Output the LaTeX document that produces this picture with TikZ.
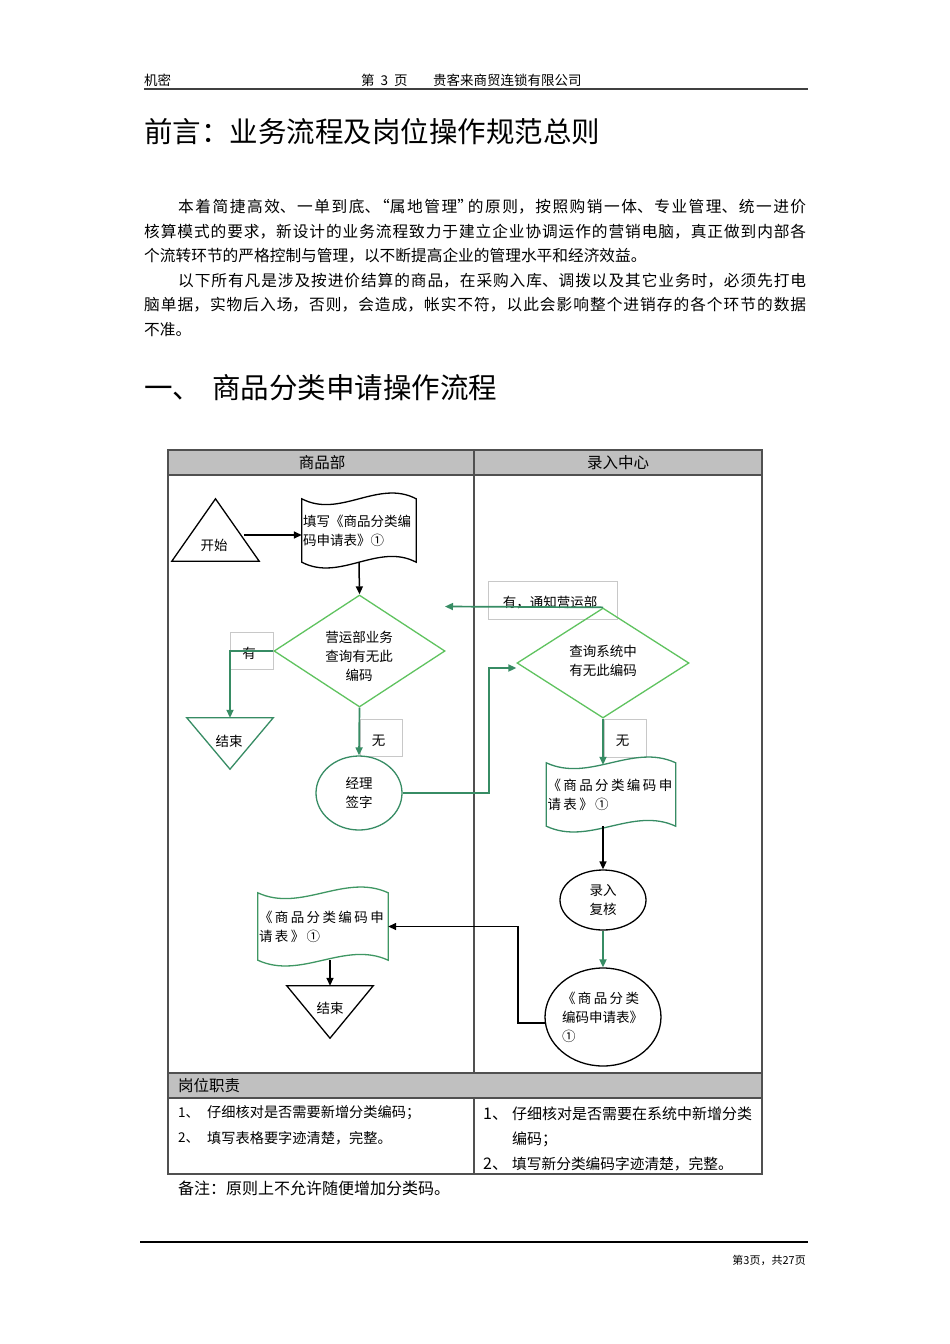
\documentclass[tikz,border=0pt]{standalone}
\usepackage{fontspec}
\setmainfont{Noto Sans CJK SC}
\usetikzlibrary{arrows.meta,shapes.geometric,calc}
\XeTeXlinebreaklocale "zh"
\XeTeXlinebreakskip=0pt plus 1.2pt
\definecolor{lgreen}{RGB}{95,195,95}
\definecolor{dgreen}{RGB}{55,140,100}
\definecolor{hdrgray}{RGB}{192,192,192}
\definecolor{lblgray}{RGB}{200,200,200}
\definecolor{tblline}{RGB}{80,80,80}
\newcommand\lsp{\hspace{2.4pt}}
\newcommand\wavedoc[2]{%
  \draw[#2] (#1.north west)
    .. controls ($(#1.north west)!0.333!(#1.north east)+(0,20)$) and ($(#1.north west)!0.667!(#1.north east)+(0,-20)$) .. (#1.north east)
    -- (#1.south east)
    .. controls ($(#1.south west)!0.667!(#1.south east)+(0,-20)$) and ($(#1.south west)!0.333!(#1.south east)+(0,20)$) .. (#1.south west)
    -- cycle;}
\tikzset{
  tx/.style={inner sep=0pt, anchor=west, font=\fontsize{#1}{#1}\selectfont},
  ftxt/.style={inner sep=0pt, font=\fontsize{13.5}{19}\selectfont, align=center},
  shp/.style={draw=none, inner sep=0pt, font=\fontsize{13.5}{19}\selectfont},
  lbl/.style={draw=lblgray, line width=0.8pt, inner sep=0pt},
  garr/.style={draw=dgreen, line width=1.7pt, -{Triangle[length=8pt,width=7pt]}},
  barr/.style={draw=black, line width=1.5pt, -{Triangle[length=8pt,width=7pt]}},
  tbl/.style={draw=tblline, line width=1.3pt},
}
\begin{document}
\begin{tikzpicture}[x=1pt,y=-1pt]
\useasboundingbox (0,0) rectangle (950,1344);
\fill[white] (0,0) rectangle (950,1344);
% page header
\node[tx=13.5] (conf) at (144,80) {机密};
\node[tx=13.5] (pg) at (361,80) {第\hspace{6pt}3\hspace{6pt}页};
\node[tx=13.5] (co) at (433,80) {贵客来商贸连锁有限公司};
\draw[line width=2pt, black!75] (144,89) -- (808,89);
\node[tx=28.5] (title) at (144,132) {前言：业务流程及岗位操作规范总则};
\node[anchor=north west, inner sep=0pt, text width=662pt, align=justify, font=\fontsize{15.7}{24.6}\selectfont] (intro) at (144,199) {\hspace*{34pt}本着简捷高效、一单到底、\kern-6pt“属地管理”\kern-5pt的原则，按照购销一体、专业管理、统一进价\linebreak 核算模式的要求，新设计的业务流程致力于建立企业协调运作的营销电脑，真正做到内部各\linebreak 个流转环节的严格控制与管理，以不断提高企业的管理水平和经济效益。\par\hspace*{34pt}以下所有凡是涉及按进价结算的商品，在采购入库、调拨以及其它业务时，必须先打电\linebreak 脑单据，实物后入场，否则，会造成，帐实不符，以此会影响整个进销存的各个环节的数据\linebreak 不准。};
\node[tx=28.5] (sec) at (144,388) {一、\hspace{11pt}商品分类申请操作流程};
% table
\fill[hdrgray] (168,450) rectangle (762,475);
\fill[hdrgray] (168,1073) rectangle (762,1098);
\draw[tbl] (168,450) rectangle (762,1174);
\draw[tbl] (168,475) -- (762,475) (168,1073) -- (762,1073) (168,1098) -- (762,1098)
  (474,450) -- (474,1073) (474,1098) -- (474,1174);
\node[inner sep=0pt, font=\fontsize{15.5}{15.5}\selectfont] (lane1) at (322,463) {商品部};
\node[inner sep=0pt, font=\fontsize{15.5}{15.5}\selectfont] (lane2) at (618,463) {录入中心};
\node[tx=15.5] (duty) at (178,1086) {岗位职责};
\node[tx=13.5] (l1n) at (178,1113) {1、};
\node[tx=14.2] (l1t) at (207,1113) {仔细核对是否需要新增分类编码；};
\node[tx=13.5] (l2n) at (178,1138) {2、};
\node[tx=14.2] (l2t) at (207,1138) {填写表格要字迹清楚，完整。};
\node[tx=16] (r1n) at (483,1114) {1、};
\node[tx=15] (r1t) at (512,1114) {仔细核对是否需要在系统中新增分类};
\node[tx=15] (r1u) at (512,1139) {编码；};
\node[tx=16] (r2n) at (483,1164) {2、};
\node[tx=14.7] (r2t) at (512,1164) {填写新分类编码字迹清楚，完整。};
\node[tx=16] (note) at (178,1188) {备注：原则上不允许随便增加分类码。};
% footer
\draw[line width=2.5pt, black] (140,1242) -- (808,1242);
\node[inner sep=0pt, anchor=east, font=\fontsize{11}{11}\selectfont] (foot) at (806,1260) {第3页，共27页};
% label boxes
\node[lbl, minimum width=43pt, minimum height=37pt] (lblyes1) at (251.5,650.5) {};
\node[ftxt] (lblyes1txt) at (249,653) {有};
\node[lbl, minimum width=42pt, minimum height=37pt] (lblno1) at (381,737.5) {};
\node[ftxt] (lblno1txt) at (378.5,741) {无};
\node[lbl, minimum width=129pt, minimum height=38pt] (lblyes2) at (552.5,600) {};
\node[ftxt] (lblyes2txt) at (550,603) {有，通知营运部};
\node[lbl, minimum width=42pt, minimum height=38pt] (lblno2) at (625,738) {};
\node[ftxt] (lblno2txt) at (622.5,741) {无};
% shapes
\node[shp, minimum width=87pt, minimum height=62pt] (start) at (215.5,530) {};
\draw[black, line width=1.3pt] (start.north) -- (start.south east) -- (start.south west) -- cycle;
\node[ftxt] (starttxt) at (214,545) {开始};
\node[shp, minimum width=114pt, minimum height=63pt, text width=112pt, align=left] (doc1) at (359,530.5) {填写《商品分类编\\码申请表》①};
\wavedoc{doc1}{black, line width=1.3pt}
\node[shp, shape=diamond, draw=lgreen, line width=1.3pt, minimum width=171pt, minimum height=112pt] (dia1) at (359.5,651) {};
\node[ftxt] (dia1txt) at (359,656) {营运部业务\\查询有无此\\编码};
\node[shp, minimum width=86pt, minimum height=51pt] (end1) at (230,743.5) {};
\draw[dgreen, line width=1.3pt] (end1.north west) -- (end1.north east) -- (end1.south) -- cycle;
\node[ftxt] (end1txt) at (229,741) {结束};
\node[shp, shape=ellipse, draw=dgreen, line width=1.3pt, minimum width=86pt, minimum height=74pt, align=center] (mgr) at (359,793) {经理\\签字};
\node[shp, shape=diamond, draw=lgreen, line width=1.3pt, minimum width=172pt, minimum height=110pt] (dia2) at (603,663) {};
\node[ftxt] (dia2txt) at (603,660.5) {查询系统中\\有无此编码};
\node[shp, minimum width=129pt, minimum height=63pt, text width=127pt, align=left] (doc2) at (611,794.5) {《\lsp{}商\lsp{}品\lsp{}分\lsp{}类\lsp{}编\lsp{}码\lsp{}申\\请\lsp{}表\lsp{}》\lsp{}①};
\wavedoc{doc2}{dgreen, line width=1.3pt}
\node[shp, shape=ellipse, draw=black, line width=1.3pt, minimum width=86pt, minimum height=60pt, align=center] (rec) at (603,900) {录入\\复核};
\node[shp, shape=ellipse, draw=black, line width=1.3pt, minimum width=114pt, minimum height=98pt, text width=82pt, align=left] (form) at (603,1017) {《\lsp{}商\lsp{}品\lsp{}分\lsp{}类\\编码申请表》\\①};
\node[shp, minimum width=130pt, minimum height=67pt, text width=128pt, align=left] (doc3) at (323,926.5) {《\lsp{}商\lsp{}品\lsp{}分\lsp{}类\lsp{}编\lsp{}码\lsp{}申\\请\lsp{}表\lsp{}》\lsp{}①};
\wavedoc{doc3}{dgreen!80!lgreen, line width=1.3pt}
\node[shp, minimum width=86pt, minimum height=52pt] (end2) at (330,1012) {};
\draw[black, line width=1.3pt] (end2.north west) -- (end2.north east) -- (end2.south) -- cycle;
\node[ftxt] (end2txt) at (330,1008) {结束};
% coordinates
\coordinate (notify) at (445,606.5);
\coordinate (turn1) at (489,793);
\coordinate (turn2) at (518,1023);
% connectors
\draw[barr] ($(start.east)+(-15,5)$) -- ($(doc1.west)+(0,4.5)$);
\draw[barr] (doc1.south) -- (dia1.north);
\draw[garr] (dia1.west) -| (end1.north);
\draw[garr] (dia1.south) -- (mgr.north);
\draw[garr] (mgr.east) -- (turn1) |- ($(dia2.west)+(0,5)$);
\draw[garr] (dia2.north) -- (notify);
\draw[garr] (dia2.south) -- ($(dia2.south |- doc2.north)+(0,2)$);
\draw[barr] (doc2.south -| rec.north) -- (rec.north);
\draw[garr] (rec.south) -- (form.north);
\draw[barr] ($(form.west)+(0.5,6)$) -- (turn2) |- (doc3.east);
\draw[barr] (doc3.south -| end2.north) -- (end2.north);
\end{tikzpicture}
\end{document}
